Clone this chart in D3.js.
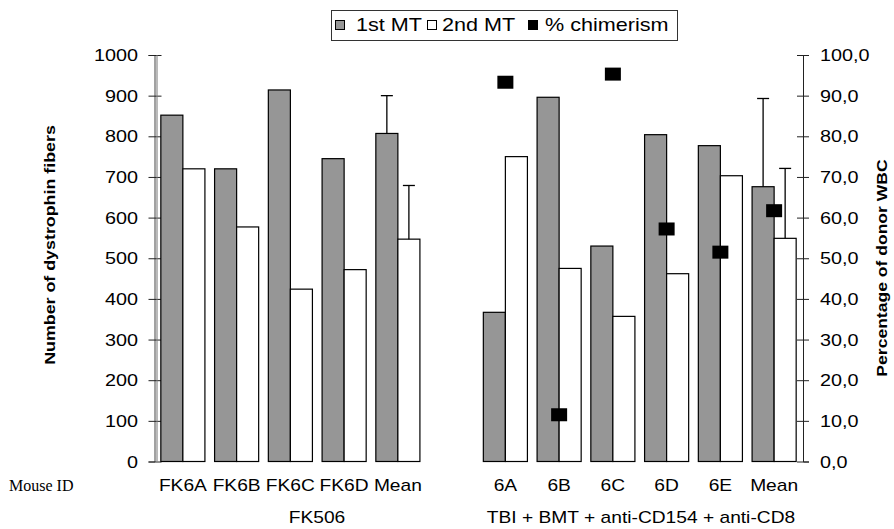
<!DOCTYPE html>
<html><head><meta charset="utf-8">
<script src="https://cdn.jsdelivr.net/npm/d3@7"></script>
<style>body{margin:0;background:#fff}svg{display:block}</style>
</head><body><svg id="c" width="894" height="529"></svg>
<script>
// ---- data ----
const slots = ["FK6A","FK6B","FK6C","FK6D","FKMean","gap","6A","6B","6C","6D","6E","TBIMean"];
const slotLabels = ["FK6A","FK6B","FK6C","FK6D","Mean","","6A","6B","6C","6D","6E","Mean"];
const firstMT  = [852, 720, 914, 745, 807, null, 367, 896, 530, 804, 777, 676];
const secondMT = [720, 577, 424, 472, 547, null, 750, 475, 357, 462, 703, 549];
const firstErr  = [null,null,null,null, 900, null, null,null,null,null,null, 893];
const secondErr = [null,null,null,null, 679, null, null,null,null,null,null, 721];
const chimerism = [null,null,null,null,null,null, 93.3, 11.5, 95.3, 57.2, 51.5, 61.7];
const leftTicks = [0,100,200,300,400,500,600,700,800,900,1000];
const rightTicks = [0,10,20,30,40,50,60,70,80,90,100];
const legendItems = ["1st MT","2nd MT","% chimerism"];
const groupLabels = ["FK506","TBI + BMT + anti-CD154 + anti-CD8"];

const svg = d3.select("#c");
const SANS = "'Liberation Sans', Arial, sans-serif";
const K = 1.2;

const x = d3.scaleBand().domain(slots).range([156, 801]).paddingInner(0).paddingOuter(0);
const gw = x.bandwidth() * 0.82;
const xi = d3.scaleBand().domain(["a","b"]).range([0, gw]);
const y = d3.scaleLinear().domain([0, 1000]).range([461.5, 55]);
const y2 = d3.scaleLinear().domain([0, 100]).range([461.5, 55]);
const fmt = d3.formatLocale({decimal:",", thousands:".", grouping:[3], currency:["",""]}).format(".1f");

function stext(g, str, tx, ty, opts) {
  opts = opts || {};
  return g.append("text")
    .attr("transform", `translate(${tx},${ty}) rotate(${opts.rot||0}) scale(${opts.k||K},1)`)
    .attr("font-family", opts.family || SANS)
    .attr("font-size", opts.size || 16)
    .attr("font-weight", opts.weight || "normal")
    .attr("text-anchor", opts.anchor || "middle")
    .attr("fill", "#000")
    .text(str);
}

// axes lines
const ax = svg.append("g").attr("transform", "translate(154.5,0)")
  .call(d3.axisLeft(y).tickValues(leftTicks).tickSize(6).tickFormat(""));
ax.select(".domain").attr("stroke", "#444");
ax.selectAll(".tick line").attr("x1", 7).attr("stroke", "#222");
svg.append("line").attr("x1", 157).attr("x2", 157).attr("y1", y(1000)).attr("y2", y(0)).attr("stroke", "#777");

const ax2 = svg.append("g").attr("transform", "translate(803,0)")
  .call(d3.axisRight(y2).tickValues(rightTicks).tickSize(6).tickFormat(""));
ax2.select(".domain").attr("stroke", "#222");
ax2.selectAll(".tick line").attr("x1", -6).attr("stroke", "#222");

// tick labels
leftTicks.forEach(v => stext(svg, String(v), 138, y(v) + 6, {anchor: "end", size: 16.5}));
rightTicks.forEach(v => stext(svg, fmt(v), 820, y2(v) + 6, {anchor: "start", size: 16.5}));

// bars
const bars = svg.append("g");
slots.forEach((s, i) => {
  if (firstMT[i] == null) return;
  const gx = x(s) + (x.bandwidth() - gw) / 2;
  bars.append("rect").attr("x", gx + xi("a")).attr("y", y(firstMT[i]))
    .attr("width", xi.bandwidth()).attr("height", y(0) - y(firstMT[i]))
    .attr("fill", "#969696").attr("stroke", "#000").attr("stroke-width", 1.2);
  bars.append("rect").attr("x", gx + xi("b")).attr("y", y(secondMT[i]))
    .attr("width", xi.bandwidth()).attr("height", y(0) - y(secondMT[i]))
    .attr("fill", "#fff").attr("stroke", "#000").attr("stroke-width", 1.2);
  [[firstErr[i], firstMT[i], "a"], [secondErr[i], secondMT[i], "b"]].forEach(([e, v, k]) => {
    if (e == null) return;
    const cx = gx + xi(k) + xi.bandwidth() / 2;
    bars.append("line").attr("x1", cx).attr("x2", cx).attr("y1", y(v)).attr("y2", y(e))
      .attr("stroke", "#000").attr("stroke-width", 1.3);
    bars.append("line").attr("x1", cx - 6).attr("x2", cx + 6).attr("y1", y(e)).attr("y2", y(e))
      .attr("stroke", "#000").attr("stroke-width", 1.3);
  });
});

// chimerism markers
slots.forEach((s, i) => {
  if (chimerism[i] == null) return;
  const cx = x(s) + x.bandwidth() / 2;
  svg.append("rect").attr("x", cx - 8).attr("y", y2(chimerism[i]) - 6.5)
    .attr("width", 16).attr("height", 13).attr("fill", "#000");
});

// category labels
slots.forEach((s, i) => {
  if (!slotLabels[i]) return;
  stext(svg, slotLabels[i], x(s) + x.bandwidth() / 2, 491, {size: 16});
});
svg.append("text").attr("x", 9).attr("y", 491).attr("font-family", "'Liberation Serif', 'Times New Roman', serif")
  .attr("font-size", 16).text("Mouse ID");
stext(svg, groupLabels[0], 317, 523, {size: 16});
stext(svg, groupLabels[1], 641, 523, {size: 16});

// axis titles
stext(svg, "Number of dystrophin fibers", 55, 245, {rot: -90, weight: "bold", size: 15, k: 1.19});
stext(svg, "Percentage of donor WBC", 887, 268, {rot: -90, weight: "bold", size: 15, k: 1.17});

// legend
const lg = svg.append("g");
lg.append("rect").attr("x", 331.5).attr("y", 10.5).attr("width", 346).attr("height", 30)
  .attr("fill", "#fff").attr("stroke", "#333").attr("stroke-width", 1);
const sw = [["#969696", 335, 356], ["#fff", 427, 442], ["#000", 528, 545]];
legendItems.forEach((t, i) => {
  lg.append("rect").attr("x", sw[i][1] + 0.5).attr("y", 20.5).attr("width", 9).attr("height", 9)
    .attr("fill", sw[i][0]).attr("stroke", "#000").attr("stroke-width", 1);
  stext(lg, t, sw[i][2], 31, {anchor: "start", size: 18});
});
</script></body></html>
